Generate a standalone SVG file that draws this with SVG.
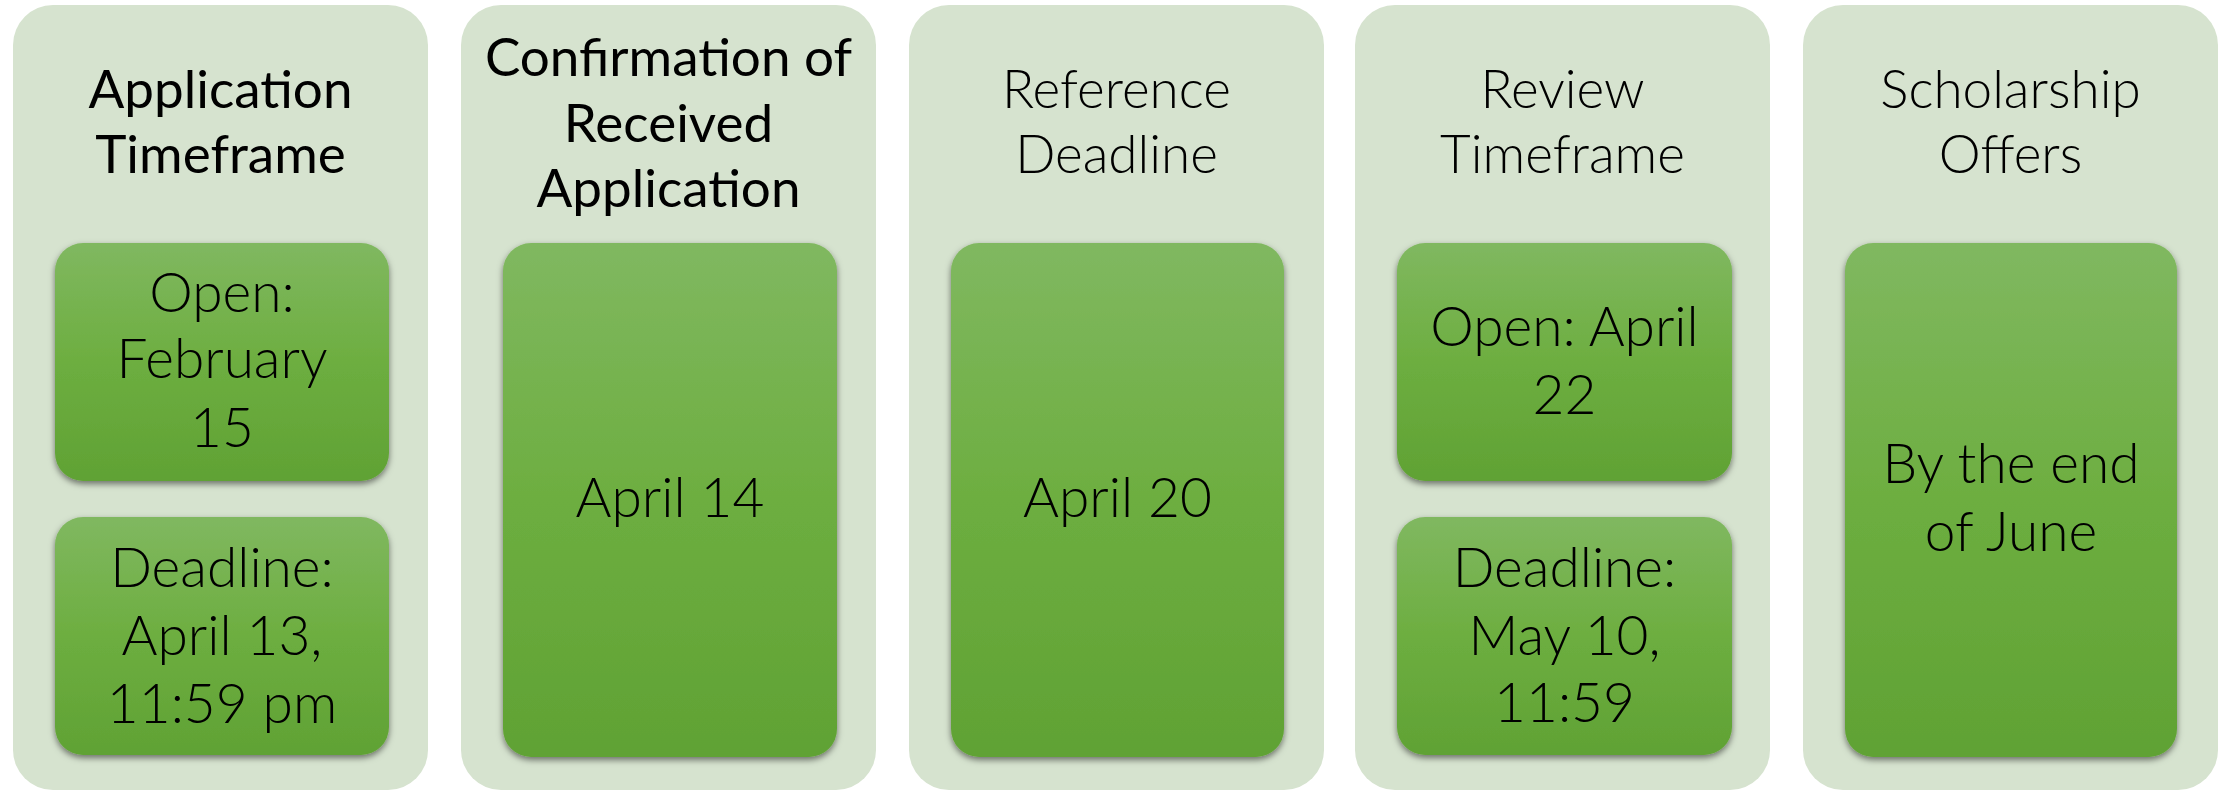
<svg xmlns="http://www.w3.org/2000/svg" width="2224" height="791" viewBox="0 0 2224 791">
<style>
.outer{fill:#D6E3CF}
.inner{fill:url(#g);filter:url(#sh)}
text{font-family:Lato,"Open Sans","Liberation Sans",sans-serif;fill:#000;text-anchor:middle}
.hr{font-size:53px;font-weight:400}
.hl{font-size:53px;font-weight:300}
.t{font-size:55px;font-weight:300}
</style>
<defs>
<linearGradient id="g" x1="0" y1="0" x2="0" y2="1">
<stop offset="0" stop-color="#80B860"/>
<stop offset="0.5" stop-color="#6DAE40"/>
<stop offset="1" stop-color="#60A234"/>
</linearGradient>
<filter id="sh" x="-10%" y="-10%" width="120%" height="125%">
<feDropShadow dx="0" dy="3" stdDeviation="3" flood-color="#000" flood-opacity="0.5"/>
</filter>
</defs>
<rect width="2224" height="791" fill="#fff"/>
<g id="col1">
<rect class="outer" x="13" y="5" width="415" height="785" rx="40"/>
<text class="hr" x="220.5" y="108">Application</text>
<text class="hr" x="220.5" y="173">Timeframe</text>
<g id="col1-open">
<rect class="inner" x="55" y="243" width="334" height="238" rx="28"/>
<text class="t" x="222" y="312">Open:</text>
<text class="t" x="222" y="378">February</text>
<text class="t" x="222" y="447">15</text>
</g>
<g id="col1-deadline">
<rect class="inner" x="55" y="517" width="334" height="238" rx="28"/>
<text class="t" x="222" y="587">Deadline:</text>
<text class="t" x="222" y="655">April 13,</text>
<text class="t" x="222" y="723">11:59 pm</text>
</g>
</g>
<g id="col2">
<rect class="outer" x="461" y="5" width="415" height="785" rx="40"/>
<text class="hr" x="668.5" y="76">Confirmation of</text>
<text class="hr" x="668.5" y="142">Received</text>
<text class="hr" x="668.5" y="207">Application</text>
<g id="col2-date">
<rect class="inner" x="503" y="243" width="334" height="514" rx="28"/>
<text class="t" x="670" y="517">April 14</text>
</g>
</g>
<g id="col3">
<rect class="outer" x="909" y="5" width="415" height="785" rx="40"/>
<text class="hl" x="1116.5" y="108">Reference</text>
<text class="hl" x="1116.5" y="173">Deadline</text>
<g id="col3-date">
<rect class="inner" x="951" y="243" width="333" height="514" rx="28"/>
<text class="t" x="1117.5" y="517">April 20</text>
</g>
</g>
<g id="col4">
<rect class="outer" x="1355" y="5" width="415" height="785" rx="40"/>
<text class="hl" x="1562.5" y="108">Review</text>
<text class="hl" x="1562.5" y="173">Timeframe</text>
<g id="col4-open">
<rect class="inner" x="1397" y="243" width="335" height="238" rx="28"/>
<text class="t" x="1564.5" y="346">Open: April</text>
<text class="t" x="1564.5" y="414">22</text>
</g>
<g id="col4-deadline">
<rect class="inner" x="1397" y="517" width="335" height="238" rx="28"/>
<text class="t" x="1564.5" y="587">Deadline:</text>
<text class="t" x="1564.5" y="655">May 10,</text>
<text class="t" x="1564.5" y="722">11:59</text>
</g>
</g>
<g id="col5">
<rect class="outer" x="1803" y="5" width="415" height="785" rx="40"/>
<text class="hl" x="2010.5" y="108">Scholarship</text>
<text class="hl" x="2010.5" y="173">Offers</text>
<g id="col5-offers">
<rect class="inner" x="1845" y="243" width="332" height="514" rx="28"/>
<text class="t" x="2011" y="483">By the end</text>
<text class="t" x="2011" y="551">of June</text>
</g>
</g>
<g id="connectors"/>
</svg>
